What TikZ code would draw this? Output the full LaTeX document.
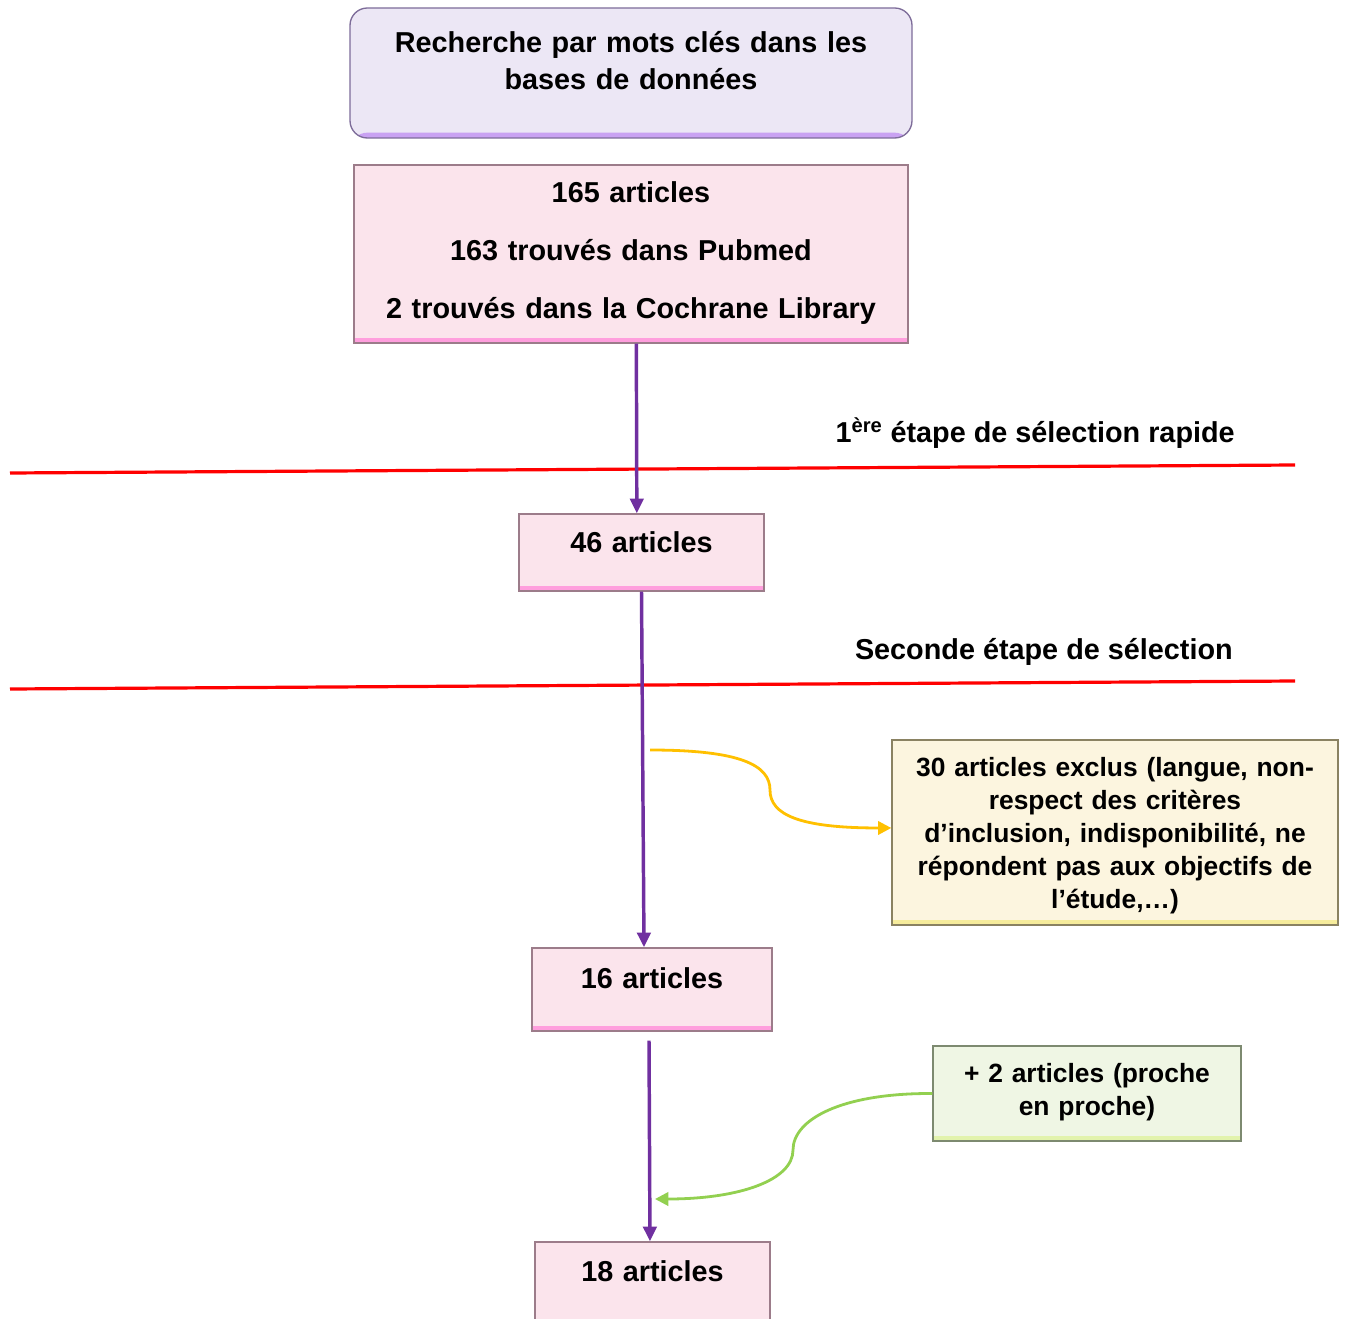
\documentclass[tikz,border=0pt]{standalone}
\usepackage{fontspec}
\setmainfont{Liberation Sans}
\usetikzlibrary{arrows.meta}

\definecolor{violetfl}{HTML}{7030A0}
\definecolor{rouge}{HTML}{FF0000}
\definecolor{jaune}{HTML}{FFC000}
\definecolor{vert}{HTML}{92D050}
\definecolor{lavande}{HTML}{ECE7F5}
\definecolor{bordlav}{HTML}{7D6C99}
\definecolor{refletlav}{HTML}{C9A2F2}
\definecolor{rose}{HTML}{FBE4EC}
\definecolor{bordrose}{HTML}{9C7C8A}
\definecolor{refletrose}{HTML}{FF9EDD}
\definecolor{creme}{HTML}{FCF5DF}
\definecolor{bordcreme}{HTML}{8A8262}
\definecolor{refletcreme}{HTML}{F6EC9C}
\definecolor{vertpale}{HTML}{EFF6E4}
\definecolor{bordvert}{HTML}{7D8A70}
\definecolor{refletvert}{HTML}{E2F3AC}

\tikzset{
  boite/.style n args={3}{rectangle, fill=#1, draw=#2, line width=1pt,
    inner sep=0pt, align=center,
    font=\bfseries\fontsize{21.6}{27.75}\selectfont,
    path picture={\fill[#3] ([yshift=4pt]path picture bounding box.south west)
      rectangle (path picture bounding box.south east);}},
  petit/.style={font=\bfseries\fontsize{19.8}{24.75}\selectfont},
  etape/.style={rouge, line width=2.4pt},
  titre/.style={font=\bfseries\fontsize{21.6}{26}\selectfont, inner sep=0pt},
  fleche/.style={violetfl, line width=2.6pt, -{Triangle[length=11pt,width=10pt]}},
  renvoi/.style={line width=2.1pt, -{Triangle[length=10pt,width=10pt]}}
}

\begin{document}
\begin{tikzpicture}[x=0.75pt,y=-0.75pt]
\useasboundingbox (0,0) rectangle (1345,1319);

% lignes de selection
\draw[etape] (10,473) -- (1295,465);
\draw[etape] (10,689) -- (1295,681);
\node[titre, anchor=base east] (etape1) at (1235,442.5) {1\textsuperscript{ère} étape de sélection rapide};
\node[titre, anchor=base east] (etape2) at (1233,659.5) {Seconde étape de sélection};

% boites
\node[boite={lavande}{bordlav}{refletlav}, rounded corners=13pt, text width=421.5pt,
      text height=33.4pt, text depth=64.1pt] (recherche) at (631,73)
      {Recherche par mots clés dans les\\bases de données};
\node[boite={rose}{bordrose}{refletrose}, font=\bfseries\fontsize{21.6}{43.5}\selectfont,
      text width=415.5pt, text height=28.1pt, text depth=105.4pt] (a165) at (631,254)
      {165 articles\\163 trouvés dans Pubmed\\2 trouvés dans la Cochrane Library};
\node[boite={rose}{bordrose}{refletrose}, text width=183.75pt,
      text height=28.9pt, text depth=28.9pt] (a46) at (641.5,552.5) {46 articles};
\node[boite={creme}{bordcreme}{refletcreme}, petit, text width=334.5pt,
      text height=27.4pt, text depth=111.4pt] (exclus) at (1115,832.5)
      {30 articles exclus (langue, non-\\respect des critères\\d’inclusion, indisponibilité, ne\\répondent pas aux objectifs de\\l’étude,…)};
\node[boite={rose}{bordrose}{refletrose}, text width=180pt,
      text height=30.4pt, text depth=31.9pt] (a16) at (652,989.5) {16 articles};
\node[boite={vertpale}{bordvert}{refletvert}, petit, text width=231pt,
      text height=27.4pt, text depth=43.9pt] (ajout) at (1087,1093.5)
      {+ 2 articles (proche\\en proche)};
\node[boite={rose}{bordrose}{refletrose}, text width=176.25pt,
      text height=29.6pt, text depth=36.4pt] (a18) at (652.5,1286) {18 articles};

% fleches
\draw[fleche] ([xshift=4pt]a165.south) -- ([xshift=-3.5pt]a46.north);
\draw[fleche] (a46.south) -- ([xshift=-6pt]a16.north);
\draw[fleche] ([xshift=-2.25pt,yshift=-6.75pt]a16.south) -- ([xshift=-1.9pt]a18.north);

\coordinate (depart) at (650,750);
\coordinate (retour) at (655,1199);
\draw[renvoi, jaune] (depart) .. controls (740,750) and (770,765) .. (770,790)
  .. controls (770,815) and (800,828) .. ([yshift=3.4pt]exclus.west);
\draw[renvoi, vert] (ajout.west) .. controls (840,1093) and (793,1120) .. (793,1150)
  .. controls (793,1180) and (740,1199) .. (retour);
\end{tikzpicture}
\end{document}
